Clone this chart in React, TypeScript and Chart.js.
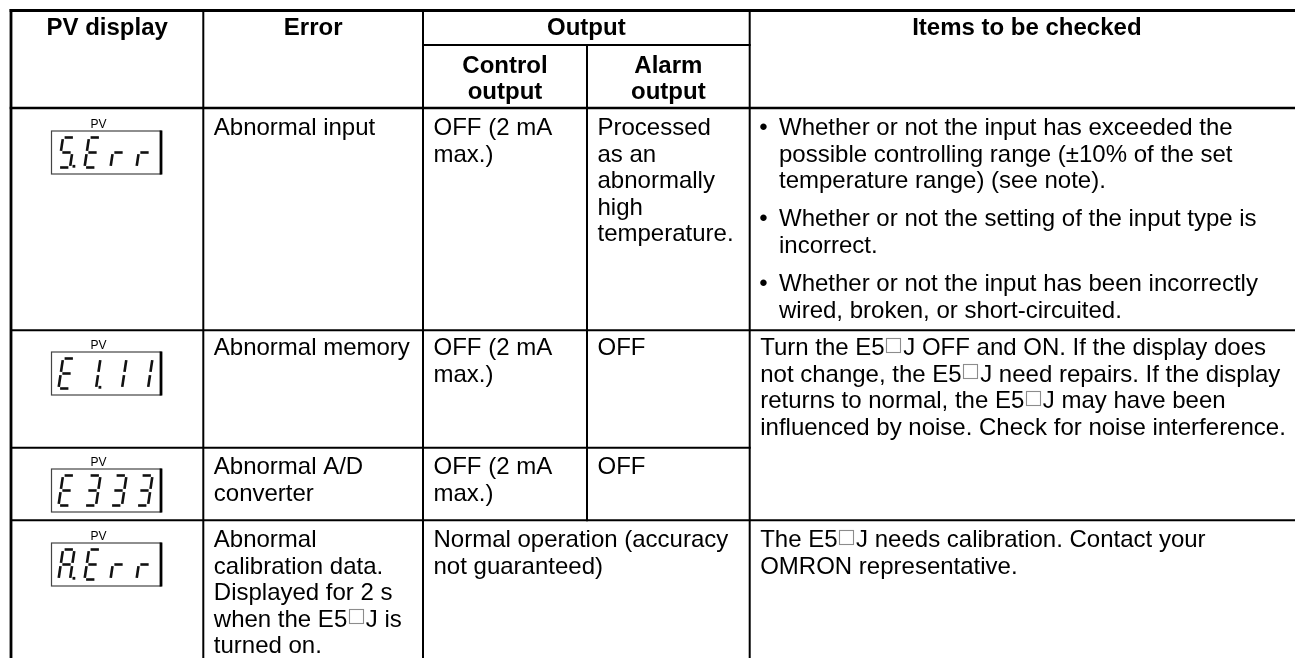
import { useEffect, useRef } from "react";
import { Chart, registerables } from "chart.js";

Chart.register(...registerables);

const W = 1295;
const H = 658;

// ---------- table content ----------
const headerTop = ["PV display", "Error", "Output", "Items to be checked"];
const outputSubHeaders = ["Control\noutput", "Alarm\noutput"];
const pvLabel = "PV";
const pvDisplays = ["5.Err", "E1.11", "E333", "A.Err"];
const errorTexts = [
  "Abnormal input",
  "Abnormal memory",
  "Abnormal A/D\nconverter",
  "Abnormal\ncalibration data.\nDisplayed for 2 s\nwhen the E5□J is\nturned on.",
];
const controlOutputs = ["OFF (2 mA\nmax.)", "OFF (2 mA\nmax.)", "OFF (2 mA\nmax.)"];
const alarmOutputs = ["Processed\nas an\nabnormally\nhigh\ntemperature.", "OFF", "OFF"];
const mergedOutput = "Normal operation (accuracy\nnot guaranteed)";
const itemsInputBullets = [
  "Whether or not the input has exceeded the\npossible controlling range (±10% of the set\ntemperature range) (see note).",
  "Whether or not the setting of the input type is\nincorrect.",
  "Whether or not the input has been incorrectly\nwired, broken, or short-circuited.",
];
const itemsMemoryAD =
  "Turn the E5□J OFF and ON. If the display does\nnot change, the E5□J need repairs. If the display\nreturns to normal, the E5□J may have been\ninfluenced by noise. Check for noise interference.";
const itemsCalibration = "The E5□J needs calibration. Contact your\nOMRON representative.";

// ---------- layout ----------
const COL = [11, 203.3, 423, 587, 749.7, 1304];
const ROW = [10.5, 45, 108, 330.3, 447.8, 520.3, H];
const ROW_BASE = [135, 355, 474, 547];
const HEAD_BASE = 35;
const SUB_BASE = 72.5;
const LH = 26.6;
const PARA_GAP = 11.6;
const PAD = 10.5;
const FONT = "24px 'Liberation Sans', Arial, Helvetica, sans-serif";
const FONT_B = "bold 24px 'Liberation Sans', Arial, Helvetica, sans-serif";
const BOX = "□";
const BOX_ADV = 18.5;

const BOX_TOPS = [131, 352, 469, 543];
const LCD_L = 51.5;
const LCD_R = 161;
const LCD_H = 43;

// grid segments: x1, y1, x2, y2, width
const GRID: number[][] = [
  [COL[0], ROW[0], W, ROW[0], 2.8],
  [COL[0], ROW[0], COL[0], H, 2.8],
  [COL[1], ROW[0], COL[1], H, 2],
  [COL[2], ROW[0], COL[2], H, 2],
  [COL[4], ROW[0], COL[4], H, 2],
  [COL[3], ROW[1], COL[3], ROW[5], 2],
  [COL[2], ROW[1], COL[4], ROW[1], 2],
  [COL[0], ROW[2], W, ROW[2], 2.6],
  [COL[0], ROW[3], W, ROW[3], 2],
  [COL[0], ROW[4], COL[4], ROW[4], 2],
  [COL[0], ROW[5], W, ROW[5], 2],
];

const SEGS: Record<string, string> = {
  "5": "afgcd",
  E: "afged",
  r: "eg",
  "1": "bc",
  "3": "abgcd",
  A: "abcefg",
  " ": "",
};

export default function App() {
  const ref = useRef<HTMLCanvasElement>(null);

  useEffect(() => {
    document.body.style.margin = "0";
    const canvas = ref.current;
    if (!canvas) return;

    const datasets = GRID.map(([x1, y1, x2, y2, w]) => ({
      type: "scatter" as const,
      data: [
        { x: x1, y: y1 },
        { x: x2, y: y2 },
      ],
      showLine: true,
      borderColor: "#000",
      borderWidth: w,
      pointRadius: 0,
      pointHoverRadius: 0,
      borderCapStyle: "square" as const,
      fill: false,
    }));

    const tablePlugin = {
      id: "tableText",
      afterDatasetsDraw(chart: any) {
        const ctx: CanvasRenderingContext2D = chart.ctx;
        const sx = chart.scales.x;
        const sy = chart.scales.y;
        const X = (v: number) => sx.getPixelForValue(v);
        const Y = (v: number) => sy.getPixelForValue(v);

        const richWidth = (s: string) => {
          const parts = s.split(BOX);
          let w = 0;
          parts.forEach((p) => (w += ctx.measureText(p).width));
          return w + (parts.length - 1) * BOX_ADV;
        };
        const drawRich = (s: string, x: number, y: number, align: "left" | "center") => {
          const px = X(x);
          const py = Y(y);
          let cx = align === "center" ? px - richWidth(s) / 2 : px;
          const parts = s.split(BOX);
          parts.forEach((p, i) => {
            ctx.fillText(p, cx, py);
            cx += ctx.measureText(p).width;
            if (i < parts.length - 1) {
              ctx.save();
              ctx.strokeStyle = "#8c8c8c";
              ctx.lineWidth = 1.1;
              ctx.strokeRect(Math.round(cx + 1.5) + 0.5, Math.round(py - 17.5) + 0.5, 14, 14);
              ctx.restore();
              cx += BOX_ADV;
            }
          });
        };
        const drawBlock = (s: string, x: number, y: number, align: "left" | "center" = "left") => {
          s.split("\n").forEach((line, i) => drawRich(line, x, y + i * LH, align));
          return s.split("\n").length;
        };

        ctx.save();
        ctx.fillStyle = "#000";
        ctx.textAlign = "left";
        ctx.textBaseline = "alphabetic";

        // headers
        ctx.font = FONT_B;
        drawBlock(headerTop[0], (COL[0] + COL[1]) / 2, HEAD_BASE, "center");
        drawBlock(headerTop[1], (COL[1] + COL[2]) / 2, HEAD_BASE, "center");
        drawBlock(headerTop[2], (COL[2] + COL[4]) / 2, HEAD_BASE, "center");
        drawBlock(headerTop[3], (COL[4] + COL[5]) / 2, HEAD_BASE, "center");
        drawBlock(outputSubHeaders[0], (COL[2] + COL[3]) / 2, SUB_BASE, "center");
        drawBlock(outputSubHeaders[1], (COL[3] + COL[4]) / 2, SUB_BASE, "center");

        // body
        ctx.font = FONT;
        errorTexts.forEach((t, r) => drawBlock(t, COL[1] + PAD, ROW_BASE[r]));
        controlOutputs.forEach((t, r) => drawBlock(t, COL[2] + PAD, ROW_BASE[r]));
        alarmOutputs.forEach((t, r) => drawBlock(t, COL[3] + PAD, ROW_BASE[r]));
        drawBlock(mergedOutput, COL[2] + PAD, ROW_BASE[3]);

        let by = ROW_BASE[0];
        itemsInputBullets.forEach((b) => {
          ctx.fillText("•", X(COL[4] + 9.5), Y(by));
          const n = drawBlock(b, COL[4] + 29.3, by);
          by += n * LH + PARA_GAP;
        });
        drawBlock(itemsMemoryAD, COL[4] + PAD, ROW_BASE[1]);
        drawBlock(itemsCalibration, COL[4] + PAD, ROW_BASE[3]);

        // PV displays
        pvDisplays.forEach((disp, r) => {
          const top = BOX_TOPS[r];
          const bot = top + LCD_H;
          ctx.font = "12px 'Liberation Sans', Arial, sans-serif";
          ctx.fillStyle = "#000";
          ctx.textAlign = "center";
          ctx.fillText(pvLabel, X(98.5), Y(top - 3.5));
          ctx.textAlign = "left";

          ctx.strokeStyle = "#444";
          ctx.lineWidth = 1.2;
          ctx.strokeRect(X(LCD_L), Y(top), X(LCD_R) - X(LCD_L), Y(bot) - Y(top));
          ctx.strokeStyle = "#000";
          ctx.lineWidth = 2.8;
          ctx.beginPath();
          ctx.moveTo(X(LCD_R), Y(top - 0.5));
          ctx.lineTo(X(LCD_R), Y(bot + 0.5));
          ctx.stroke();

          // parse digits
          const digits: { c: string; dp: boolean }[] = [];
          for (const ch of disp) {
            if (ch === "." && digits.length) digits[digits.length - 1].dp = true;
            else digits.push({ c: ch, dp: false });
          }
          const dw = 11.5;
          const dh = 30;
          const k = 4.5;
          const gap = 1.6;
          const yT = top + 6.5;
          ctx.strokeStyle = "#111";
          ctx.fillStyle = "#111";
          ctx.lineWidth = 2.6;
          ctx.lineCap = "butt";
          digits.forEach((d, i) => {
            const x0 = 58.5 + i * 26;
            const P = (u: number, v: number): [number, number] => [x0 + u * dw + (1 - v) * k, yT + v * dh];
            const segDef: Record<string, [number, number, number, number]> = {
              a: [0, 0, 1, 0],
              b: [1, 0, 1, 0.5],
              c: [1, 0.5, 1, 1],
              d: [0, 1, 1, 1],
              e: [0, 0.5, 0, 1],
              f: [0, 0, 0, 0.5],
              g: [0, 0.5, 1, 0.5],
            };
            const segs = SEGS[d.c] ?? "";
            for (const s of segs) {
              const [u1, v1, u2, v2] = segDef[s];
              const [ax, ay] = P(u1, v1);
              const [bx, bY] = P(u2, v2);
              const len = Math.hypot(bx - ax, bY - ay);
              const ux = (bx - ax) / len;
              const uy = (bY - ay) / len;
              ctx.beginPath();
              ctx.moveTo(X(ax + ux * gap), Y(ay + uy * gap));
              ctx.lineTo(X(bx - ux * gap), Y(bY - uy * gap));
              ctx.stroke();
            }
            if (d.dp) {
              const [px, py] = P(1, 1);
              ctx.fillRect(X(px + 2.5), Y(py - 2.6), 2.8, 2.8);
            }
          });
        });
        ctx.restore();
      },
    };

    const chart = new Chart(canvas, {
      type: "scatter",
      data: { datasets: datasets as any },
      options: {
        animation: false,
        responsive: false,
        devicePixelRatio: 1,
        events: [],
        layout: { padding: 0 },
        plugins: { legend: { display: false }, tooltip: { enabled: false }, title: { display: false } },
        scales: {
          x: { type: "linear", min: 0, max: W, display: false },
          y: { type: "linear", min: 0, max: H, reverse: true, display: false },
        },
      },
      plugins: [tablePlugin],
    });
    return () => chart.destroy();
  }, []);

  return (
    <div style={{ width: W, height: H, background: "#fff" }}>
      <canvas ref={ref} width={W} height={H} style={{ display: "block", width: W, height: H }} />
    </div>
  );
}
